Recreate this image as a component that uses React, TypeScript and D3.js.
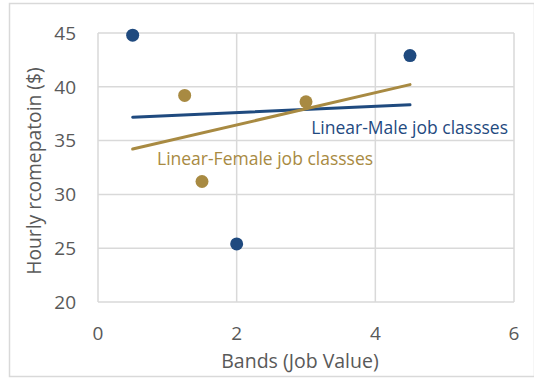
import React from "react";
import * as d3 from "d3";

const maleX = [0.5, 2, 4.5];
const maleY = [44.8, 25.4, 42.9];
const femaleX = [1.25, 1.5, 3];
const femaleY = [39.2, 31.2, 38.6];
const xTicks = [0, 2, 4, 6];
const yTicks = [20, 25, 30, 35, 40, 45];
const maleLabel = "Linear-Male job classses";
const femaleLabel = "Linear-Female job classses";
const xTitle = "Bands (Job Value)";
const yTitle = "Hourly rcomepatoin ($)";

const BLUE = "#1f4a7f";
const GOLD = "#a88a42";
const GRID = "#d9d9d9";
const TEXT = "#595959";
const FONT = "'Open Sans', 'Noto Sans', sans-serif";

function fit(xs: number[], ys: number[]) {
  const mx = d3.mean(xs)!;
  const my = d3.mean(ys)!;
  let sxy = 0, sxx = 0;
  xs.forEach((x, i) => {
    sxy += (x - mx) * (ys[i] - my);
    sxx += (x - mx) * (x - mx);
  });
  const b = sxy / sxx;
  return (x: number) => my + b * (x - mx);
}

export default function App() {
  const W = 534, H = 379;
  const left = 98, right = 514, top = 33, bottom = 302;
  const x = d3.scaleLinear().domain([0, 6]).range([left, right]);
  const y = d3.scaleLinear().domain([20, 45]).range([bottom, top]);
  const trendX = [0.5, 4.5];
  const mf = fit(maleX, maleY);
  const ff = fit(femaleX, femaleY);
  const line = d3.line<[number, number]>().x(d => x(d[0])).y(d => y(d[1]));
  const malePts: [number, number][] = trendX.map(v => [v, mf(v)]);
  const femalePts: [number, number][] = trendX.map(v => [v, ff(v)]);

  return (
    <svg width={W} height={H} style={{ position: "absolute", left: 0, top: 0, display: "block" }} fontFamily={FONT}>
      <rect x={0} y={0} width={W} height={H} fill="#fff" />
      <rect x={9.5} y={3.5} width={W - 9} height={373} fill="#fff" stroke={GRID} strokeWidth={1.5} />
      {yTicks.map(t => (
        <line key={"gy" + t} x1={left} x2={right} y1={y(t)} y2={y(t)} stroke={GRID} strokeWidth={1.5} />
      ))}
      {xTicks.map(t => (
        <line key={"gx" + t} x1={x(t)} x2={x(t)} y1={top} y2={bottom} stroke={GRID} strokeWidth={1.5} />
      ))}
      {yTicks.map(t => (
        <text key={"ty" + t} x={76} y={y(t)} dy="0.36em" textAnchor="end" fontSize={19} fill={TEXT}>{t}</text>
      ))}
      {xTicks.map(t => (
        <text key={"tx" + t} x={x(t)} y={340} textAnchor="middle" fontSize={19} fill={TEXT}>{t}</text>
      ))}
      <text x={300} y={368} textAnchor="middle" fontSize={19.5} fill={TEXT}>{xTitle}</text>
      <text transform={`translate(41, 171) rotate(-90)`} textAnchor="middle" fontSize={19.3} fill={TEXT}>{yTitle}</text>
      <path d={line(malePts)!} stroke={BLUE} strokeWidth={3} fill="none" strokeLinecap="round" />
      <path d={line(femalePts)!} stroke={GOLD} strokeWidth={3} fill="none" strokeLinecap="round" />
      {maleX.map((v, i) => (
        <circle key={"m" + i} cx={x(v)} cy={y(maleY[i])} r={6.5} fill={BLUE} />
      ))}
      {femaleX.map((v, i) => (
        <circle key={"f" + i} cx={x(v)} cy={y(femaleY[i])} r={6.5} fill={GOLD} />
      ))}
      <text x={508} y={134} textAnchor="end" fontSize={17.5} fill={BLUE}>{maleLabel}</text>
      <text x={157} y={165} textAnchor="start" fontSize={17.5} fill={GOLD}>{femaleLabel}</text>
    </svg>
  );
}
